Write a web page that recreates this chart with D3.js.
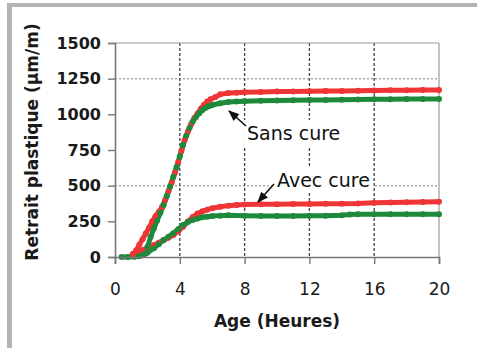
<!DOCTYPE html>
<html><head><meta charset="utf-8">
<script src="https://cdn.jsdelivr.net/npm/d3@7"></script>
<style>body{margin:0;background:#fff;overflow:hidden}</style>
</head><body><svg id="c" width="477" height="348"></svg>
<script>
const xTicks = [0, 4, 8, 12, 16, 20];
const yTicks = [0, 250, 500, 750, 1000, 1250, 1500];
const hGrid = [500, 1250];
const vGrid = [4, 8, 12, 16];

// [heure, retrait µm/m]
const sansCureRouge = [[1.1,20],[1.3,45],[1.5,85],[1.7,125],[1.9,165],[2.1,205],[2.3,250],[2.5,285],[2.7,315],[2.9,350],[3.1,400],[3.3,460],[3.5,520],[3.7,590],[3.9,665],[4.1,745],[4.3,820],[4.5,880],[4.7,930],[4.9,975],[5.1,1005],[5.3,1040],[5.5,1068],[5.7,1090],[5.9,1105],[6.2,1122],[6.5,1140],[7,1150],[7.5,1152],[8,1155],[9,1157],[10,1160],[11,1160],[12,1162],[13,1163],[14,1163],[15,1165],[16,1167],[17,1168],[18,1168],[19,1170],[20,1170]];
const sansCureVert = [[1.8,20],[2.0,70],[2.2,140],[2.4,200],[2.6,255],[2.8,310],[3.0,365],[3.2,428],[3.4,495],[3.6,562],[3.8,630],[4.0,705],[4.2,785],[4.4,850],[4.6,905],[4.8,950],[5.0,982],[5.2,1008],[5.4,1030],[5.6,1047],[5.8,1057],[6.0,1065],[6.5,1078],[7,1086],[7.5,1090],[8,1092],[9,1095],[10,1097],[11,1098],[12,1100],[13,1100],[14,1102],[15,1104],[16,1105],[17,1106],[18,1107],[19,1108],[20,1108]];
const avecCureRouge = [[1.1,20],[1.3,35],[1.5,42],[1.75,50],[2.0,62],[2.4,84],[2.7,100],[3.0,119],[3.3,135],[3.6,154],[3.9,180],[4.2,212],[4.5,248],[4.8,280],[5.1,305],[5.4,320],[5.7,332],[6.0,342],[6.5,352],[7,360],[7.5,365],[8,368],[9,370],[10,370],[11,371],[12,372],[13,373],[14,374],[15,375],[16,380],[17,382],[18,384],[19,386],[20,388]];
const avecCureVert = [[0.4,0],[0.8,0],[1.2,2],[1.5,5],[1.75,14],[2.0,30],[2.4,61],[2.7,90],[3.0,119],[3.3,142],[3.6,166],[3.9,195],[4.2,224],[4.5,245],[4.8,260],[5.1,270],[5.4,278],[5.7,283],[6.0,287],[6.5,290],[7,292],[8,290],[9,288],[10,288],[11,288],[12,289],[13,290],[14,292],[14.5,298],[15,299],[16,300],[17,300],[18,300],[19,300],[20,300]];

const ROUGE = "#ef3535", VERT = "#1d8a3b";
const svg = d3.select("#c");
const x = d3.scaleLinear().domain([0, 20]).range([115, 439]);
const y = d3.scaleLinear().domain([0, 1500]).range([257, 43]);

// outer frame
svg.append("rect").attr("x", 7).attr("y", 3).attr("width", 470).attr("height", 4).attr("fill", "#b3b3b3");
svg.append("rect").attr("x", 7).attr("y", 3).attr("width", 5).attr("height", 345).attr("fill", "#b3b3b3");

// grid
svg.append("g").selectAll("line").data(hGrid).join("line")
  .attr("x1", x(0)).attr("x2", x(20)).attr("y1", d => y(d)).attr("y2", d => y(d))
  .attr("stroke", "#a8a8a8").attr("stroke-width", 1.5).attr("stroke-dasharray", "2,2");
svg.append("g").selectAll("line").data(vGrid).join("line")
  .attr("x1", d => x(d)).attr("x2", d => x(d)).attr("y1", y(1500)).attr("y2", y(0))
  .attr("stroke", "#444").attr("stroke-width", 1.3).attr("stroke-dasharray", "3,2");

// plot frame top/right
svg.append("line").attr("x1", x(0)).attr("x2", x(20)).attr("y1", y(1500)).attr("y2", y(1500)).attr("stroke", "#999").attr("stroke-width", 1.2);
svg.append("line").attr("x1", x(20)).attr("x2", x(20)).attr("y1", y(1500)).attr("y2", y(0)).attr("stroke", "#999").attr("stroke-width", 1.2);

// annotation backgrounds + text
const annG = svg.append("g");
function label(txt, tx, ty) {
  const t = annG.append("text").attr("x", tx).attr("y", ty).text(txt)
    .attr("font-family", "DejaVu Sans").attr("font-size", 19).attr("fill", "#111");
  const b = t.node().getBBox();
  annG.insert("rect", "text").attr("x", b.x - 3).attr("y", b.y - 2).attr("width", b.width + 6).attr("height", b.height + 4).attr("fill", "#fff");
}
label("Sans cure", 247, 140);
label("Avec cure", 277, 187);

// series
const line = d3.line().x(d => x(d[0])).y(d => y(d[1]));
const series = [
  {data: avecCureRouge, c: ROUGE}, {data: avecCureVert, c: VERT},
  {data: sansCureRouge, c: ROUGE}, {data: sansCureVert, c: VERT}
];
series.forEach(s => {
  svg.append("path").datum(s.data).attr("d", line).attr("fill", "none")
    .attr("stroke", s.c).attr("stroke-width", 5).attr("stroke-linejoin", "round");
});
series.forEach(s => {
  svg.append("g").selectAll("circle").data(s.data).join("circle")
    .attr("cx", d => x(d[0])).attr("cy", d => y(d[1])).attr("r", 3).attr("fill", s.c);
});

// axes
const ax = svg.append("g").attr("transform", `translate(${x(0)},0)`)
  .call(d3.axisLeft(y).tickValues(yTicks).tickFormat(d3.format("d")).tickSize(7).tickPadding(7));
const bx = svg.append("g").attr("transform", `translate(0,${y(0)})`)
  .call(d3.axisBottom(x).tickValues(xTicks).tickFormat(d3.format("d")).tickSize(7).tickPadding(19));
[ax, bx].forEach(g => {
  g.select(".domain").attr("stroke", "#777").attr("stroke-width", 1.6);
  g.selectAll(".tick line").attr("stroke", "#777").attr("stroke-width", 1.4);
});
ax.selectAll("text").attr("font-family", "DejaVu Sans").attr("font-weight", "bold").attr("font-size", 16).attr("fill", "#1a1a1a");
bx.selectAll("text").attr("font-family", "DejaVu Sans").attr("font-size", 17).attr("fill", "#1a1a1a");

// titles
svg.append("text").attr("transform", "translate(38,142) rotate(-90)").attr("text-anchor", "middle")
  .attr("font-family", "DejaVu Sans").attr("font-weight", "bold").attr("font-size", 17).attr("fill", "#1a1a1a")
  .text("Retrait plastique (µm/m)");
svg.append("text").attr("x", 277).attr("y", 327).attr("text-anchor", "middle")
  .attr("font-family", "DejaVu Sans").attr("font-weight", "bold").attr("font-size", 17).attr("fill", "#1a1a1a")
  .text("Age (Heures)");

// arrows
svg.append("defs").append("marker").attr("id", "ah").attr("viewBox", "0 0 10 10").attr("refX", 9).attr("refY", 5)
  .attr("markerWidth", 7).attr("markerHeight", 7).attr("orient", "auto")
  .append("path").attr("d", "M0,1 L10,5 L0,9 Z").attr("fill", "#111");
svg.append("line").attr("x1", 246).attr("y1", 126).attr("x2", 229).attr("y2", 111)
  .attr("stroke", "#111").attr("stroke-width", 1.6).attr("marker-end", "url(#ah)");
svg.append("line").attr("x1", 274).attr("y1", 184).attr("x2", 258).attr("y2", 202)
  .attr("stroke", "#111").attr("stroke-width", 1.6).attr("marker-end", "url(#ah)");
</script></body></html>
